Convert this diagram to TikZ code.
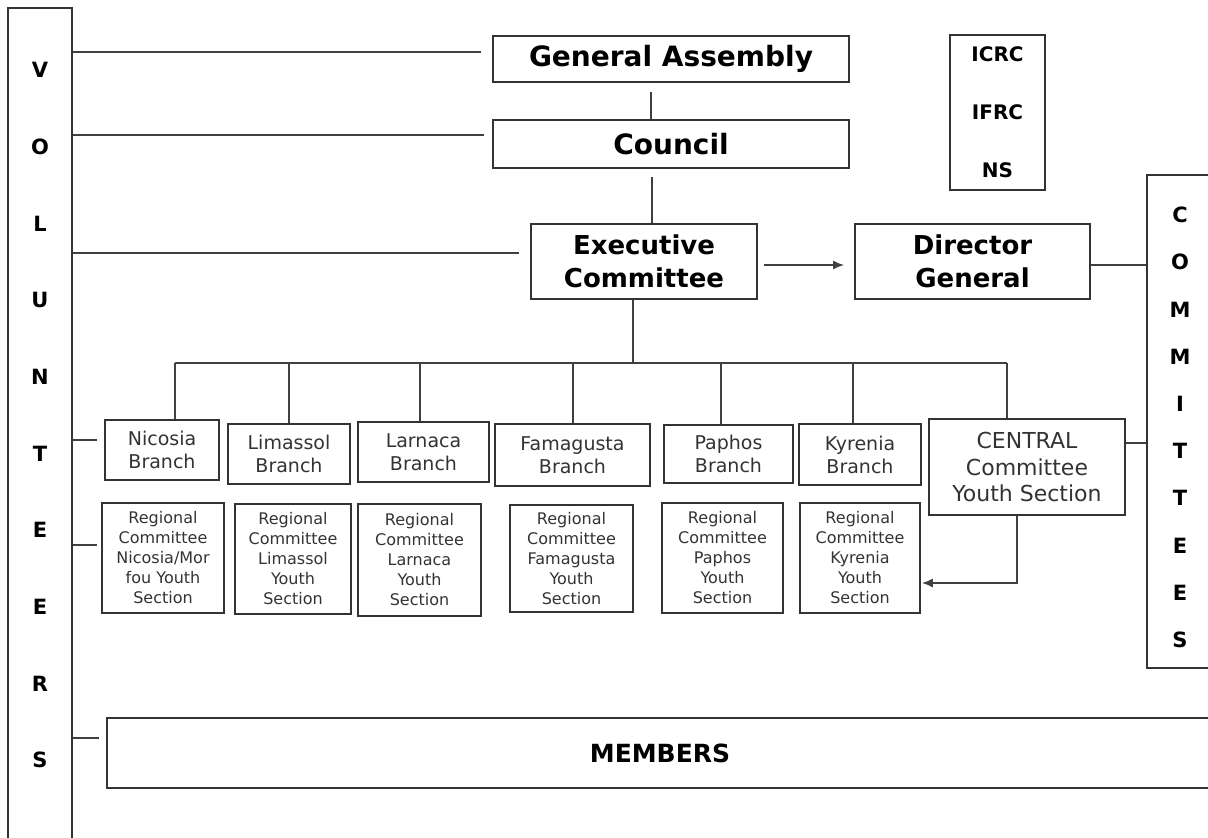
\documentclass[tikz,border=0pt]{standalone}
\usepackage{fontspec}
\setmainfont{DejaVu Sans}
\usetikzlibrary{arrows.meta}
\tikzset{
    org-box/.style = {draw=black!80, line width=1.8pt, rectangle, inner sep=2pt, align=center, font=\fontsize{28}{30}\selectfont\bfseries},
    exec-box/.style = {org-box, font=\fontsize{26}{33}\selectfont\bfseries},
    branch-box/.style = {draw=black!80, line width=1.8pt, rectangle, inner sep=2pt, align=center, text=black!80, font=\fontsize{19}{23}\selectfont},
    region-box/.style = {branch-box, font=\fontsize{16}{20}\selectfont},
    side-box/.style = {draw=black!80, line width=1.8pt, rectangle, inner sep=0pt},
    side-letter/.style = {font=\fontsize{21}{21}\selectfont\bfseries},
    link/.style = {draw=black!75, line width=1.6pt},
    link-arrow/.style = {link, -{Latex[length=11pt,width=9pt]}},
}

\begin{document}
\begin{tikzpicture}[x=1pt, y=-1pt]
\useasboundingbox (0,0) rectangle (1208,838);
\clip (0,0) rectangle (1208,838);

% side columns
\node[side-box, minimum width=64pt, minimum height=862pt] (vol) at (40,439) {};
\foreach \l [count=\i] in {V,O,L,U,N,T,E,E,R,S}
    \node[side-letter] (vl\i) at (40, {70+76.7*(\i-1)}) {\l};
\node[side-box, minimum width=68pt, minimum height=493pt] (comm) at (1181,421.5) {};
\foreach \l [count=\i] in {C,O,M,M,I,T,T,E,E,S}
    \node[side-letter] (cl\i) at (1180, {215+47.2*(\i-1)}) {\l};

% top of the tree
\node[org-box, minimum width=356pt, minimum height=46pt] (ga) at (671,59) {General Assembly};
\node[org-box, minimum width=356pt, minimum height=48pt] (council) at (671,144) {Council};
\node[exec-box, minimum width=226pt, minimum height=75pt] (exec) at (644,261.5) {Executive\\Committee};
\node[exec-box, minimum width=235pt, minimum height=75pt] (dg) at (972.5,261.5) {Director\\General};
\node[org-box, font=\fontsize{20}{58}\selectfont\bfseries, minimum width=95pt, minimum height=155pt] (icrc) at (997.5,112.5) {ICRC\\IFRC\\NS};

% branches
\node[branch-box, minimum width=114pt, minimum height=60pt] (nicb) at (162,450) {Nicosia\\Branch};
\node[branch-box, minimum width=122pt, minimum height=60pt] (limb) at (289,454) {Limassol\\Branch};
\node[branch-box, minimum width=131pt, minimum height=60pt] (larb) at (423.5,452) {Larnaca\\Branch};
\node[branch-box, minimum width=155pt, minimum height=62pt] (famb) at (572.5,455) {Famagusta\\Branch};
\node[branch-box, minimum width=129pt, minimum height=58pt] (papb) at (728.5,454) {Paphos\\Branch};
\node[branch-box, minimum width=122pt, minimum height=61pt] (kyrb) at (860,454.5) {Kyrenia\\Branch};
\node[branch-box, font=\fontsize{22}{26.5}\selectfont, minimum width=196pt, minimum height=96pt] (centr) at (1027,467) {CENTRAL\\Committee\\Youth Section};

% regional youth sections
\node[region-box, minimum width=122pt, minimum height=110pt] (nicr) at (163,558) {Regional\\Committee\\Nicosia/Mor\\fou Youth\\Section};
\node[region-box, minimum width=116pt, minimum height=110pt] (limr) at (293,559) {Regional\\Committee\\Limassol\\Youth\\Section};
\node[region-box, minimum width=123pt, minimum height=112pt] (larr) at (419.5,560) {Regional\\Committee\\Larnaca\\Youth\\Section};
\node[region-box, minimum width=123pt, minimum height=107pt] (famr) at (571.5,558.5) {Regional\\Committee\\Famagusta\\Youth\\Section};
\node[region-box, minimum width=121pt, minimum height=110pt] (papr) at (722.5,558) {Regional\\Committee\\Paphos\\Youth\\Section};
\node[region-box, minimum width=120pt, minimum height=110pt] (kyrr) at (860,558) {Regional\\Committee\\Kyrenia\\Youth\\Section};

\node[org-box, font=\fontsize{25}{27}\selectfont\bfseries, minimum width=1106pt, minimum height=70pt] (members) at (660,753) {MEMBERS};

% volunteers links
\draw[link] ([yshift=7pt]ga.west -| vol.east) -- ([xshift=-11pt,yshift=7pt]ga.west);
\draw[link] ([yshift=9pt]council.west -| vol.east) -- ([xshift=-8pt,yshift=9pt]council.west);
\draw[link] ([yshift=8.5pt]exec.west -| vol.east) -- ([xshift=-11pt,yshift=8.5pt]exec.west);
\draw[link] ([yshift=10pt]nicb.west -| vol.east) -- ([xshift=-7pt,yshift=10pt]nicb.west);
\draw[link] ([yshift=13pt]nicr.west -| vol.east) -- ([xshift=-4pt,yshift=13pt]nicr.west);
\draw[link] ([yshift=15pt]members.west -| vol.east) -- ([xshift=-7pt,yshift=15pt]members.west);

% main line
\draw[link] ([xshift=-20pt,yshift=-9pt]ga.south) -- ([xshift=-20pt]council.north);
\draw[link] ([xshift=-19pt,yshift=-8pt]council.south) -- ([xshift=-19pt]council.south |- exec.north);
\draw[link-arrow] ([xshift=6pt,yshift=-3.5pt]exec.east) -- ([xshift=-10pt,yshift=-3.5pt]dg.west);
\draw[link] ([yshift=-3.5pt]dg.east) -- ([yshift=-3.5pt]dg.east -| comm.west);

% bus to branches
\coordinate (bus) at (633,363);
\draw[link] (exec.south -| bus) -- (bus);
\draw[link] ([xshift=13pt]nicb.north |- bus) -- ([xshift=-20pt]centr.north |- bus);
\foreach \b/\dx in {nicb/13, limb/0, larb/-3.5, famb/0.5, papb/-7.5, kyrb/-7, centr/-20}
    \draw[link] ([xshift=\dx pt]\b.north |- bus) -- ([xshift=\dx pt]\b.north);

\draw[link] ([yshift=24pt]centr.east) -- ([yshift=24pt]centr.east -| comm.west);
\draw[link-arrow] ([xshift=-10pt]centr.south) |- ([xshift=1pt,yshift=-25pt]kyrr.east);
\end{tikzpicture}
\end{document}
